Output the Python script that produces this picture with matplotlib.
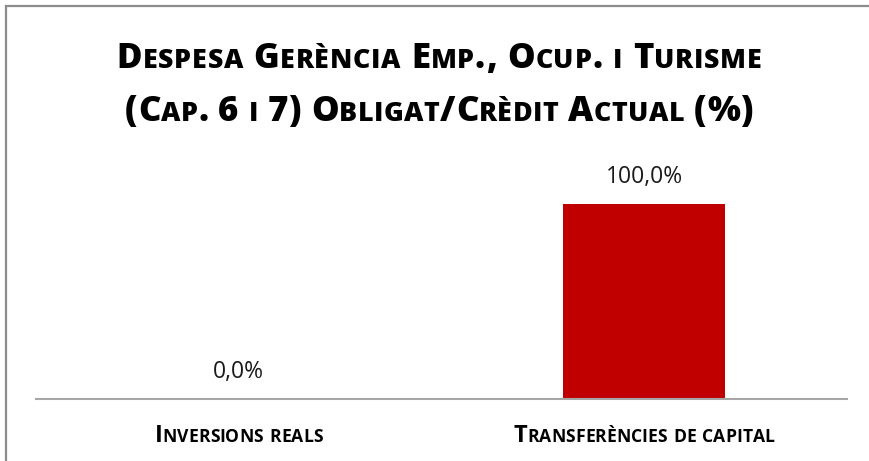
import matplotlib
matplotlib.use("Agg")
import matplotlib.pyplot as plt
from matplotlib.font_manager import FontProperties
from matplotlib.patches import Rectangle

FONT = ["Open Sans", "DejaVu Sans"]
plt.rcParams["font.family"] = FONT

# data
categories = ["Inversions reals", "Transferències de capital"]
values = [0.0, 100.0]
title_lines = ["Despesa Gerència Emp., Ocup. i Turisme",
               "(Cap. 6 i 7) Obligat/Crèdit Actual (%)"]

W, H, DPI = 870, 461, 100
fig = plt.figure(figsize=(W / DPI, H / DPI), dpi=DPI)
renderer = fig.canvas.get_renderer()


def advance(s, prop):
    # horizontal advance in pixels, spaces included
    w1 = renderer.get_text_width_height_descent("|" + s + "|", prop, ismath=False)[0]
    w0 = renderer.get_text_width_height_descent("||", prop, ismath=False)[0]
    return w1 - w0


def smallcaps(text, xc, y_base, size, ratio=0.76, weight="bold",
              color="black", width=None):
    # lowercase letters become smaller capitals, everything else full size;
    # if width is given, letters are spread out to fill it
    chars = []
    for ch in text:
        small = ch.islower()
        p = FontProperties(family=FONT, weight=weight,
                           size=size * ratio if small else size)
        chars.append((ch.upper(), p, advance(ch.upper(), p)))
    natural = sum(a for _, _, a in chars)
    track = 0 if width is None else (width - natural) / (len(chars) - 1)
    total = natural + track * (len(chars) - 1)
    x = xc - total / 2
    for s, p, a in chars:
        fig.text(x / W, 1 - y_base / H, s, fontproperties=p, color=color,
                 ha="left", va="baseline")
        x += a + track


# chart border
fig.patches.append(Rectangle((6 / W, -0.1), 1.2, 1 - 6 / H + 0.1,
                             transform=fig.transFigure, fill=False,
                             edgecolor="#8c8c8c", linewidth=1.6))

ax = fig.add_axes([36 / W, 62 / H, (847 - 36) / W, (296 - 62) / H])
x = range(len(categories))
bars = ax.bar(x, values, width=0.4, color="#C00000")
ax.set_xlim(-0.5, len(categories) - 0.5)
ax.set_ylim(0, 120)
for side in ["top", "right", "left"]:
    ax.spines[side].set_visible(False)
ax.spines["bottom"].set_color("#a6a6a6")
ax.spines["bottom"].set_linewidth(1.5)
ax.set_xticks([])
ax.set_yticks([])
ax.patch.set_alpha(0)

for b, v in zip(bars, values):
    ax.annotate(f"{v:.1f}%".replace(".", ","),
                (b.get_x() + b.get_width() / 2, v),
                xytext=(0, 21), textcoords="offset pixels",
                ha="center", va="baseline", fontsize=16.5, color="#1a1a1a")

smallcaps(title_lines[0], 439, 68, 25, ratio=0.77, weight=800, width=645)
smallcaps(title_lines[1], 439, 121, 25, ratio=0.77, weight=800, width=628)

for i, c in enumerate(categories):
    xc = ax.transData.transform((i, 0))[0]
    smallcaps(c, xc, 442, 17, ratio=0.74)

fig.savefig("out.png", dpi=DPI)
